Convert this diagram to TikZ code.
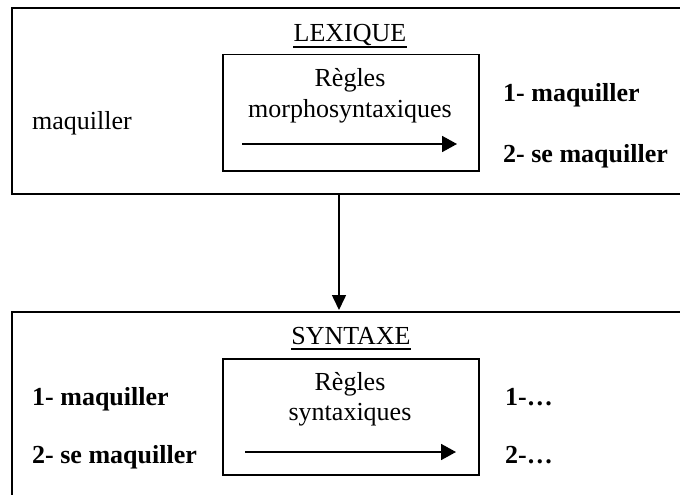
\documentclass[tikz,border=0pt]{standalone}
\usepackage{fontspec}
\setmainfont{Liberation Serif}
\usetikzlibrary{arrows.meta}
\tikzset{
  outerbox/.style={draw, line width=1.8pt, anchor=north west, inner sep=0pt},
  innerbox/.style={draw, line width=1.5pt, anchor=north west, inner sep=0pt, minimum width=256pt, minimum height=116pt},
  txt/.style={inner sep=0pt, anchor=base west},
  ctxt/.style={inner sep=0pt, anchor=base},
  bld/.style={txt, font=\fontsize{26}{30}\selectfont\bfseries},
  rulearrow/.style={line width=1.8pt, -{Triangle[length=15pt,width=16pt]}},
  ul/.style={line width=1.4pt}
}
\begin{document}
\begin{tikzpicture}[x=1pt,y=-1pt,font=\fontsize{26}{30}\selectfont]
\clip (0,0) rectangle (680,495);
% outer boxes
\node[outerbox, minimum width=700pt, minimum height=186pt] (lex) at (11,7) {};
\node[outerbox, minimum width=700pt, minimum height=220pt] (syn) at (11,311) {};
% inner boxes
\node[innerbox] (rb1) at (222,54) {};
\node[innerbox] (rb2) at (222,358) {};
% titles
\node[ctxt] (lext) at (350,42) {LEXIQUE};
\draw[ul] ([yshift=-5pt]lext.base west) -- ([yshift=-5pt]lext.base east);
\node[ctxt] (synt) at (351,344) {SYNTAXE};
\draw[ul] ([yshift=-5pt]synt.base west) -- ([yshift=-5pt]synt.base east);
% top box contents
\node[ctxt] (r1a) at (350,87) {Règles};
\node[ctxt] (r1b) at (350,117) {morphosyntaxiques};
\coordinate (a1s) at (242,144);
\coordinate (a1e) at (457,144);
\draw[rulearrow] (a1s) -- (a1e);
\node[txt] (maq) at (32,129) {maquiller};
\node[bld] (o1) at (503,101) {1- maquiller};
\node[bld] (o2) at (503,162) {2- se maquiller};
% bottom box contents
\node[ctxt] (r2a) at (350,390) {Règles};
\node[ctxt] (r2b) at (350,420) {syntaxiques};
\coordinate (a2s) at (245,452);
\coordinate (a2e) at (456,452);
\draw[rulearrow] (a2s) -- (a2e);
\node[bld] (i1) at (32,405) {1- maquiller};
\node[bld] (i2) at (32,463) {2- se maquiller};
\node[bld] (p1) at (505,405) {1-…};
\node[bld] (p2) at (505,463) {2-…};
% connector
\coordinate (v) at (339,0);
\draw[line width=1.6pt, -{Triangle[length=15pt,width=14pt]}] (lex.south -| v) -- ([yshift=1pt]syn.north -| v);
\end{tikzpicture}
\end{document}
